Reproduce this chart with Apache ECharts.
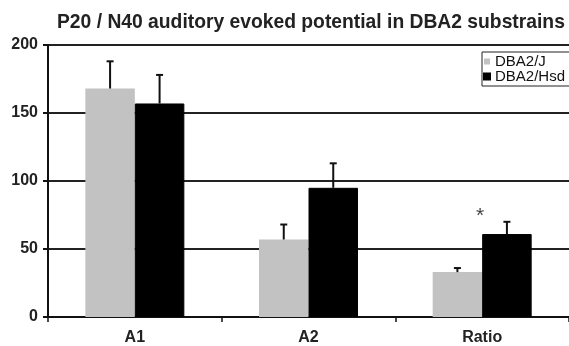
<!DOCTYPE html>
<html>
<head>
<meta charset="utf-8">
<script src="https://cdn.jsdelivr.net/npm/echarts@6/dist/echarts.min.js"></script>
<style>
  html, body { margin: 0; padding: 0; background: #fff; }
  #chart { width: 569px; height: 346px; }
</style>
</head>
<body>
<div id="chart"></div>
<script>
// Amplitudes of the P20/N40 auditory evoked potential (mean and upper error)
const categories = ['A1', 'A2', 'Ratio'];
const seriesNames = ['DBA2/J', 'DBA2/Hsd'];
const dbaJ = [168, 57, 33];
const dbaJErr = [188, 68, 36];
const dbaHsd = [157, 95, 61];
const dbaHsdErr = [178, 113, 70];
// significance marker above the Ratio group
const starValues = [null, null, 77];
const yTicks = [0, 50, 100, 150, 200];

const font = 'Liberation Sans, Arial, sans-serif';
const categoryGap = 0.43;

// Upward error whisker with a small cap, centred on one bar of the pair
function errorBar(side) {
  return function (params, api) {
    const idx = api.value(0);
    const base = api.coord([idx, api.value(1)]);
    const top = api.coord([idx, api.value(2)]);
    const band = api.size([1, 0])[0];
    const barW = band * (1 - categoryGap) / 2;
    const x = base[0] + side * barW / 2;
    const cap = 3.5;
    const style = { stroke: '#111', lineWidth: 2 };
    return {
      type: 'group',
      children: [
        { type: 'line', shape: { x1: x, y1: base[1], x2: x, y2: top[1] }, style: style },
        { type: 'line', shape: { x1: x - cap, y1: top[1], x2: x + cap, y2: top[1] }, style: style }
      ]
    };
  };
}

const chart = echarts.init(document.getElementById('chart'), null, { renderer: 'canvas' });
chart.setOption({
  animation: false,
  backgroundColor: '#fff',
  title: {
    text: 'P20 / N40 auditory evoked potential in DBA2 substrains',
    left: 57, top: 13,
    padding: 0,
    textStyle: { fontFamily: font, fontWeight: 'bold', fontSize: 19.3, color: '#222' }
  },
  legend: {
    data: seriesNames,
    orient: 'vertical',
    left: 482, top: 52,
    padding: [2, 12, 2, 1],
    itemWidth: 6, itemHeight: 6, itemGap: 0,
    icon: 'rect',
    borderColor: '#222', borderWidth: 1,
    backgroundColor: '#fff',
    textStyle: { fontFamily: font, fontSize: 15, lineHeight: 13, color: '#111' }
  },
  grid: { left: 48, right: 0, top: 45, bottom: 27, containLabel: false },
  xAxis: {
    type: 'category',
    data: categories,
    axisLine: { lineStyle: { color: '#111', width: 2 } },
    axisTick: { show: true, length: 5, lineStyle: { color: '#111', width: 1.5 } },
    axisLabel: { fontFamily: font, fontWeight: 'bold', fontSize: 16, color: '#222', margin: 13 }
  },
  yAxis: {
    type: 'value',
    min: yTicks[0], max: yTicks[yTicks.length - 1], interval: 50,
    axisLine: { show: true, lineStyle: { color: '#111', width: 2 } },
    axisTick: { show: true, length: 5, lineStyle: { color: '#111', width: 2 } },
    axisLabel: { fontFamily: font, fontWeight: 'bold', fontSize: 16, color: '#222', margin: 10 },
    splitLine: { show: true, lineStyle: { color: '#222', width: 2 } }
  },
  series: [
    {
      name: seriesNames[0], type: 'bar', data: dbaJ,
      barGap: '0%', barCategoryGap: (categoryGap * 100) + '%',
      itemStyle: { color: '#c2c2c2' }
    },
    {
      name: seriesNames[1], type: 'bar', data: dbaHsd,
      itemStyle: { color: '#000', borderColor: '#000', borderWidth: 1 }
    },
    {
      type: 'custom', renderItem: errorBar(-1), z: 5,
      data: categories.map((c, i) => [i, dbaJ[i], dbaJErr[i]]),
      encode: { x: 0, y: 2 }, silent: true
    },
    {
      type: 'custom', renderItem: errorBar(1), z: 5,
      data: categories.map((c, i) => [i, dbaHsd[i], dbaHsdErr[i]]),
      encode: { x: 0, y: 2 }, silent: true
    },
    {
      type: 'scatter', data: starValues, symbolSize: 1,
      itemStyle: { color: 'transparent' }, silent: true,
      label: {
        show: true, position: 'inside', formatter: '*',
        fontFamily: font, fontSize: 21, color: '#111', offset: [-2, 4]
      }
    }
  ]
});
</script>
</body>
</html>
